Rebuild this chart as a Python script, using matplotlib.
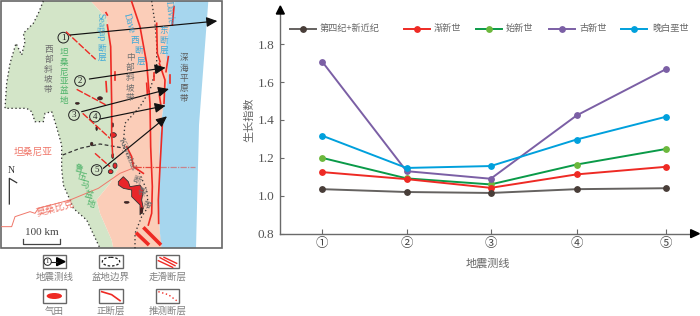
import matplotlib

matplotlib.use("Agg")
import matplotlib.pyplot as plt
from matplotlib.patches import Circle, Ellipse, Polygon, Rectangle

CJK = ["Noto Sans CJK SC", "DejaVu Sans"]
SERIF = "Liberation Serif"

# chart data
line_labels = ["①", "②", "③", "④", "⑤"]
line_pos = [1, 2, 3, 4.02, 5.08]
y_ticks = [0.8, 1.0, 1.2, 1.4, 1.6, 1.8]
quaternary = [1.035, 1.02, 1.015, 1.035, 1.04]
oligocene = [1.125, 1.088, 1.042, 1.113, 1.153]
eocene = [1.2, 1.092, 1.06, 1.165, 1.247]
paleocene = [1.707, 1.13, 1.09, 1.424, 1.668]
late_cretaceous = [1.317, 1.147, 1.157, 1.297, 1.417]

# map shapes (3x pixel coordinates)
green_area = [(130, 3), (115, 40), (100, 70), (70, 100), (75, 125), (65, 165), (48, 130), (30, 190),
              (20, 250), (15, 325), (80, 325), (95, 335), (105, 365), (130, 365), (135, 340), (155, 335),
              (165, 365), (185, 435), (185, 505), (190, 555), (210, 600), (220, 625), (260, 660), (300, 745),
              (340, 745), (335, 720), (300, 640), (290, 600), (330, 550), (355, 505), (335, 420), (333, 310),
              (333, 150), (320, 55), (272, 3)]
pink_area = [(272, 3), (320, 55), (333, 150), (333, 310), (335, 420), (355, 505), (330, 550), (290, 600),
             (300, 640), (335, 720), (340, 745), (490, 745), (480, 700), (475, 600), (480, 400), (490, 320),
             (505, 220), (495, 150), (525, 3)]
blue_area = [(525, 3), (625, 3), (597, 375), (588, 745), (485, 745), (480, 700), (475, 600), (480, 400),
             (490, 320), (505, 220), (495, 150)]
east_basin_edge = [(455, 3), (465, 70), (470, 130), (470, 200), (450, 270), (420, 320), (375, 370), (370, 430),
                   (385, 470), (410, 500), (440, 570), (445, 620), (425, 650), (405, 700), (405, 745)]
inner_basin_edge = [(188, 465), (240, 445), (300, 432), (335, 438), (375, 445)]
border_line = [(5, 680), (35, 680), (45, 650), (90, 635), (105, 640), (115, 625), (210, 600), (295, 565),
               (360, 520), (410, 500)]
main_faults = [
    [(322, 75), (332, 140), (335, 310), (335, 400), (338, 470)],
    [(395, 5), (420, 80), (440, 190), (450, 310), (452, 440), (457, 560), (455, 640), (445, 675)],
    [(522, 20), (517, 75)],
    [(505, 170), (498, 215)],
    [(470, 70), (472, 160), (480, 185)],
    [(478, 190), (495, 240), (492, 310)],
    [(487, 375), (480, 500), (475, 600), (476, 670)],
    [(380, 440), (395, 470), (400, 500), (430, 520)],
    [(318, 38), (322, 45)],
    [(345, 215), (345, 240)],
    [(318, 245), (320, 275)],
    [(440, 250), (442, 280)],
    [(462, 220), (462, 240)],
    [(510, 225), (510, 248)],
    [(478, 285), (482, 312)],
]
normal_faults = [
    [(198, 95), (287, 178)],
    [(230, 268), (318, 315)],
    [(248, 340), (330, 415)],
    [(285, 460), (330, 500)],
]
slip_bars = [[(430, 682), (483, 735)], [(408, 698), (447, 735)]]
gas_main = [(355, 545), (370, 530), (385, 545), (390, 560), (420, 555), (430, 570), (425, 600), (430, 625),
            (420, 645), (420, 615), (405, 600), (395, 590), (395, 570), (370, 565), (355, 555)]
gas_red = [(340, 405, 18, 14), (345, 497, 12, 16), (332, 515, 14, 12)]
gas_dark = [(300, 295, 15, 10), (232, 310, 12, 6), (275, 432, 8, 11), (380, 607, 15, 6), (290, 385, 5, 13),
            (338, 375, 5, 13), (338, 468, 6, 15), (425, 632, 7, 18)]
seismic_lines = [
    ((210, 105), (652, 63)),
    ((268, 237), (497, 203)),
    ((245, 335), (507, 267)),
    ((300, 357), (497, 317)),
    ((310, 505), (501, 349)),
]
line_circles = [(190, 113, "1"), (240, 243, "2"), (222, 345, "3"), (285, 350, "4"), (290, 510, "5")]


def _stacked(ax, text, x, ys, color, size=6.2, rotation=0):
    for char, y in zip(text, ys):
        ax.text(x, y, char, color=color, family=CJK, fontsize=size, rotation=rotation,
                ha="center", va="center")


def _draw_chart(fig):
    left, right, top, bottom = 280.3, 695.0, 10.0, 233.7
    ax = fig.add_axes([left / 700, 1 - bottom / 316, (right - left) / 700, (bottom - top) / 316])
    ax.patch.set_alpha(0)
    ax.set_xlim(0.501, 5.426)
    ax.set_ylim(0.8, 0.8 + (bottom - top) / 189.5)

    series = [
        (eocene, "#0a9a48", "#6cb83c"),
        (oligocene, "#ee2a24", "#ee2a24"),
        (paleocene, "#7b5fa5", "#7b5fa5"),
        (late_cretaceous, "#00a0dc", "#00a0dc"),
        (quaternary, "#656260", "#483d38"),
    ]
    for values, color, marker_color in series:
        ax.plot(line_pos, values, color=color, linewidth=1.4, marker="o", markersize=3.9,
                markerfacecolor=marker_color, markeredgecolor=marker_color, clip_on=False)

    for name in ["top", "right"]:
        ax.spines[name].set_visible(False)
    for name in ["left", "bottom"]:
        ax.spines[name].set_color("#6a6a6a")
        ax.spines[name].set_linewidth(1.0)

    ax.set_yticks(y_ticks)
    ax.set_yticklabels([f"{v:.1f}" for v in y_ticks], family=SERIF, fontsize=9.5, color="#555555")
    ax.set_xticks(line_pos)
    ax.set_xticklabels(line_labels, family=CJK, fontsize=9, color="#444444")
    ax.tick_params(axis="y", direction="in", length=3, width=0.8, color="#6a6a6a", pad=4.5)
    ax.tick_params(axis="x", direction="in", length=3.5, width=0.8, color="#6a6a6a", pad=2.5)
    ax.set_xlabel("地震测线", family=CJK, fontsize=8, color="#666666", labelpad=5.5)
    ax.set_ylabel("生长指数", family=CJK, fontsize=8, color="#666666", labelpad=2, y=0.51)
    return ax


def _draw_chart_extras(ax):
    ax.add_patch(Polygon([(841, 18), (829, 42), (853, 42)], color="black"))
    ax.add_patch(Polygon([(2098, 701), (2072, 689), (2072, 713)], color="black"))

    legend_items = [
        ("第四纪+新近纪", "#656260", "#483d38", 869, 960),
        ("渐新世", "#ee2a24", "#ee2a24", 1212, 1302),
        ("始新世", "#0a9a48", "#6cb83c", 1428, 1518),
        ("古新世", "#7b5fa5", "#7b5fa5", 1647, 1737),
        ("晚白垩世", "#00a0dc", "#00a0dc", 1863, 1956),
    ]
    for label, color, marker_color, x_start, x_text in legend_items:
        x_end = x_start + 78
        ax.plot([x_start, x_end], [86, 86], color=color, linewidth=1.4)
        ax.plot([(x_start + x_end) / 2], [86], "o", markersize=3.9, color=marker_color)
        ax.text(x_text, 86, label, family=CJK, fontsize=6.6, color="#666666", ha="left", va="center")


def _draw_map(ax):
    ax.add_patch(Polygon(green_area, facecolor="#d3e5c8", edgecolor="none"))
    ax.add_patch(Polygon(pink_area, facecolor="#fbcdb8", edgecolor="none"))
    ax.add_patch(Polygon(blue_area, facecolor="#a6d6ee", edgecolor="none"))

    dotted = (0, (1, 2))
    ax.plot(*zip(*green_area[:24]), color="#333333", linewidth=0.95, linestyle=dotted)
    ax.plot(*zip(*east_basin_edge), color="#333333", linewidth=0.95, linestyle=dotted)
    ax.plot(*zip(*inner_basin_edge), color="#333333", linewidth=0.9, linestyle=(0, (3, 2)))
    ax.plot(*zip(*border_line), color="#f0776a", linewidth=0.7)
    ax.plot([405, 480], [500, 500], color="#e8483c", linewidth=0.9, linestyle=(0, (5, 1, 1, 1)))
    ax.plot([480, 585], [500, 500], color="#c8848c", linewidth=0.9, linestyle=(0, (5, 1, 1, 1)))

    for fault in main_faults:
        ax.plot(*zip(*fault), color="#ee2a24", linewidth=1.2)
    for fault in normal_faults:
        ax.plot(*zip(*fault), color="#ee2a24", linewidth=1.0, linestyle=(0, (5, 1.2)))
    for bar in slip_bars:
        ax.plot(*zip(*bar), color="#ee2a24", linewidth=2.6, solid_capstyle="butt")

    ax.add_patch(Polygon(gas_main, facecolor="#e8262a", edgecolor="#333333", linewidth=0.6))
    for x, y, w, h in gas_red:
        ax.add_patch(Ellipse((x, y), w, h, facecolor="#e8262a", edgecolor="#333333", linewidth=0.6))
    for x, y, w, h in gas_dark:
        ax.add_patch(Ellipse((x, y), w, h, facecolor="#4a2020", edgecolor="#222222", linewidth=0.4))

    for start, end in seismic_lines:
        ax.annotate("", xy=end, xytext=start,
                    arrowprops=dict(arrowstyle="-|>,head_length=0.65,head_width=0.3", color="#111111",
                                    linewidth=0.85, shrinkA=0, shrinkB=0))
    for x, y, digit in line_circles:
        ax.add_patch(Circle((x, y), 16, facecolor="none", edgecolor="#222222", linewidth=0.7))
        ax.text(x, y, digit, family=SERIF, fontsize=6.5, color="#222222", ha="center", va="center")

    ax.add_patch(Rectangle((3, 3), 662, 742, facecolor="none", edgecolor="#666666", linewidth=1.2))

    blue_text = "#3fa9d8"
    ax.text(300, 80, "Seagap", family=SERIF, fontsize=7, color=blue_text, rotation=-88, ha="center", va="center")
    _stacked(ax, "断层", 306, [146, 172], blue_text)
    ax.text(386, 70, "Dave", family=SERIF, fontsize=7, color=blue_text, rotation=-75, ha="center", va="center")
    _stacked(ax, "西", 405, [122], blue_text)
    _stacked(ax, "断", 417, [152], blue_text)
    _stacked(ax, "层", 424, [183], blue_text)
    ax.text(507, 38, "Davie", family=SERIF, fontsize=7, color=blue_text, rotation=-85, ha="center", va="center")
    _stacked(ax, "东断层", 491, [92, 122, 152], blue_text)

    _stacked(ax, "西部斜坡带", 145, [147, 178, 208, 236, 267], "#6e6e6e")
    _stacked(ax, "中部斜坡带", 390, [171, 203, 232, 262, 292], "#6e6e6e")
    _stacked(ax, "深海平原带", 552, [172, 205, 235, 265, 295], "#5a5a5a")
    _stacked(ax, "坦桑尼亚盆地", 192, [155, 187, 217, 245, 272, 300], "#4fb36a")
    for char, x, y in zip("鲁伍马盆地", [235, 245, 255, 265, 272], [505, 530, 555, 585, 610]):
        _stacked(ax, char, x, [y], "#4fb36a", rotation=-15)
    ax.text(100, 455, "坦桑尼亚", family=CJK, fontsize=7, color="#f0776a", ha="center", va="center")
    ax.text(165, 625, "莫桑比克", family=CJK, fontsize=7, color="#f0776a", rotation=15, ha="center", va="center")
    ax.text(382, 465, "Kilymbas", family=SERIF, fontsize=6.5, color="#6e6e6e", rotation=-68, ha="center", va="center")
    for char, x, y in zip("断裂带", [410, 425, 440], [540, 575, 615]):
        _stacked(ax, char, x, [y], "#6e6e6e", rotation=-20)

    ax.text(33, 510, "N", family=SERIF, fontsize=7, color="#333333", ha="center", va="center")
    ax.plot([28, 28, 50], [612, 535, 548], color="#333333", linewidth=0.9)
    ax.text(125, 698, "100 km", family=SERIF, fontsize=8, color="#444444", ha="center", va="center")
    ax.plot([70, 70, 180, 180], [718, 732, 732, 718], color="#444444", linewidth=0.9)


def _draw_map_legend(ax):
    boxes = [(128, 765, "地震测线"), (298, 765, "盆地边界"), (468, 765, "走滑断层"),
             (128, 868, "气田"), (298, 868, "正断层"), (468, 868, "推测断层")]
    for x, y, label in boxes:
        ax.add_patch(Rectangle((x, y), 70, 40, facecolor="white", edgecolor="#666666", linewidth=1.0))
        ax.text(x + 35, y + 66, label, family=CJK, fontsize=6.8, color="#808080", ha="center", va="center")

    ax.add_patch(Circle((143, 785), 11, facecolor="none", edgecolor="#222222", linewidth=0.7))
    ax.text(143, 785, "1", family=SERIF, fontsize=5, color="#222222", ha="center", va="center")
    ax.plot([154, 172], [785, 785], color="#222222", linewidth=0.8)
    ax.add_patch(Polygon([(195, 785), (170, 773), (170, 797)], color="black"))
    ax.add_patch(Ellipse((333, 785), 52, 26, facecolor="none", edgecolor="#222222", linewidth=0.9,
                         linestyle=(0, (2, 1.5))))
    ax.plot([480, 525], [773, 797], color="#ee2a24", linewidth=1.0)
    ax.plot([475, 518], [782, 802], color="#ee2a24", linewidth=1.0)
    ax.plot([492, 530], [772, 790], color="#ee2a24", linewidth=1.0)
    ax.add_patch(Ellipse((163, 888), 46, 18, facecolor="#ee2a24", edgecolor="none"))
    ax.plot([305, 335, 360], [875, 884, 902], color="#ee2a24", linewidth=1.2)
    ax.plot([475, 505, 530], [875, 884, 902], color="#ee2a24", linewidth=1.0, linestyle=(0, (1, 1.8)))


def main():
    fig = plt.figure(figsize=(7, 3.16), dpi=100)
    _draw_chart(fig)

    overlay = fig.add_axes([0, 0, 1, 1])
    overlay.set_xlim(0, 2100)
    overlay.set_ylim(948, 0)
    overlay.axis("off")
    overlay.patch.set_alpha(0)

    _draw_chart_extras(overlay)
    _draw_map(overlay)
    _draw_map_legend(overlay)

    fig.savefig("out.png", dpi=100)
    plt.close(fig)


if __name__ == "__main__":
    main()
